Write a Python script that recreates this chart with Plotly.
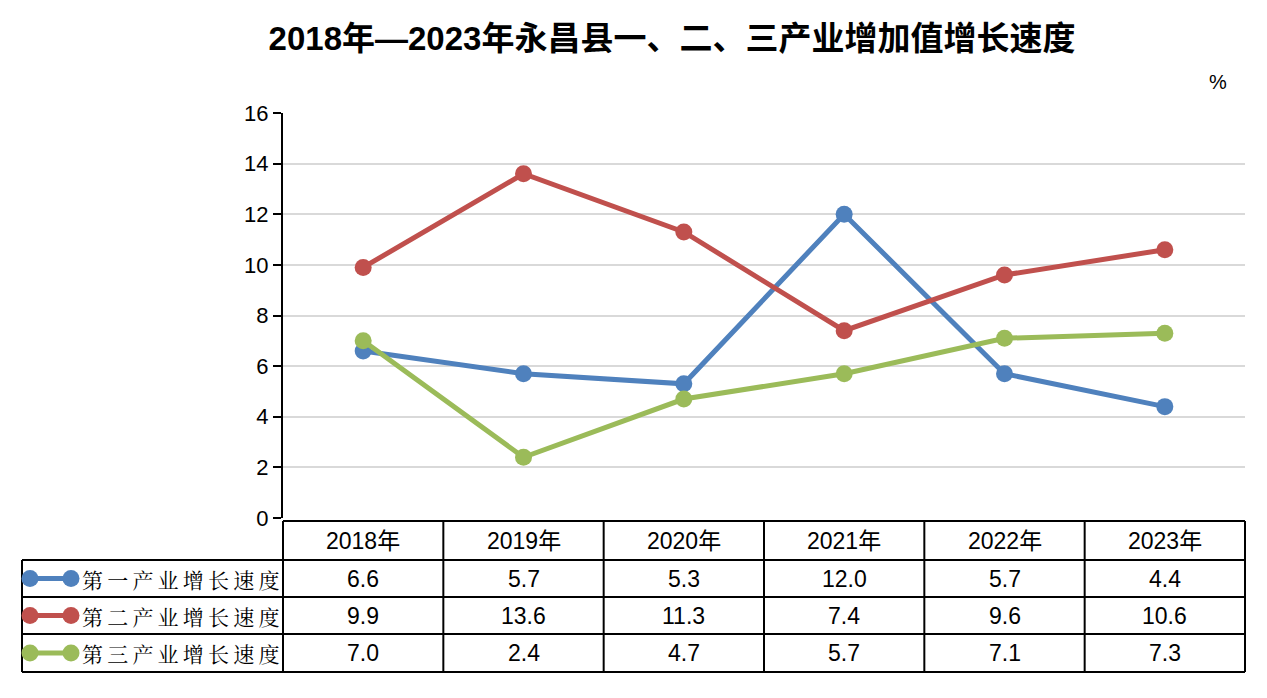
import plotly.graph_objects as go

# data
years = ["2018年", "2019年", "2020年", "2021年", "2022年", "2023年"]
names = ["第一产业增长速度", "第二产业增长速度", "第三产业增长速度"]
primary = [6.6, 5.7, 5.3, 12.0, 5.7, 4.4]
secondary = [9.9, 13.6, 11.3, 7.4, 9.6, 10.6]
tertiary = [7.0, 2.4, 4.7, 5.7, 7.1, 7.3]
colors = ["#4F81BD", "#C0504D", "#9BBB59"]

W, H = 1267, 698
OFF = 8  # page body margin
L, R, T, B = 283, 1245, 113, 518  # plot area in screen pixels

def px(x):
    return (x - L) / (R - L)

def py(y):
    return (B - y) / (B - T)

num_font = "Liberation Sans, Arial, Noto Sans CJK SC"
fig = go.Figure()

for name, vals, c in zip(names, [primary, secondary, tertiary], colors):
    fig.add_trace(go.Scatter(x=years, y=vals, name=name, mode="lines+markers",
                             line=dict(color=c, width=5),
                             marker=dict(color=c, size=17), showlegend=False))

# data table under the plot
row_edges = [521, 560, 597, 634, 672]
col_w = (R - L) / len(years)
shapes = []
line = dict(color="black", width=2)
shapes.append(dict(type="line", xref="paper", yref="paper", x0=px(L), x1=px(R),
                   y0=py(row_edges[0]), y1=py(row_edges[0]), line=line))
for yy in row_edges[1:]:
    shapes.append(dict(type="line", xref="paper", yref="paper", x0=px(22), x1=px(R),
                       y0=py(yy), y1=py(yy), line=line))
for i in range(len(years) + 1):
    xx = L + i * col_w
    shapes.append(dict(type="line", xref="paper", yref="paper", x0=px(xx), x1=px(xx),
                       y0=py(row_edges[0]), y1=py(row_edges[-1]), line=line))
shapes.append(dict(type="line", xref="paper", yref="paper", x0=px(22), x1=px(22),
                   y0=py(row_edges[1]), y1=py(row_edges[-1]), line=line))

cell_font = dict(size=23, family=num_font, color="black")
annotations = []
for yr in years:
    annotations.append(dict(x=yr, xref="x", yref="paper", xanchor="center", yanchor="middle",
                            y=py((row_edges[0] + row_edges[1]) / 2), text=yr,
                            showarrow=False, font=cell_font))
for r, (name, vals, c) in enumerate(zip(names, [primary, secondary, tertiary], colors)):
    yc = py((row_edges[r + 1] + row_edges[r + 2]) / 2)
    for yr, v in zip(years, vals):
        annotations.append(dict(x=yr, xref="x", yref="paper", y=yc, text=f"{v:.1f}",
                                xanchor="center", yanchor="middle",
                                showarrow=False, font=cell_font))
    # legend key
    shapes.append(dict(type="line", xref="paper", yref="paper", x0=px(30), x1=px(71),
                       y0=yc, y1=yc, line=dict(color=c, width=5)))
    for cx in (30, 71):
        shapes.append(dict(type="circle", xref="paper", yref="paper", xsizemode="pixel",
                           ysizemode="pixel", xanchor=px(cx), yanchor=yc,
                           x0=-8.5, x1=8.5, y0=-8.5, y1=8.5, fillcolor=c, line=dict(width=0)))
    annotations.append(dict(x=px(80), xref="paper", yref="paper", y=yc,
                            xanchor="left", yanchor="middle",
                            text="\u2009".join(name), showarrow=False,
                            font=dict(size=21, family="Noto Serif CJK SC, Noto Sans CJK SC",
                                      color="black")))

annotations.append(dict(x=px(1218), y=py(82), xref="paper", yref="paper", text="%",
                        xanchor="center", yanchor="middle",
                        showarrow=False, font=dict(size=20, family=num_font, color="black")))

fig.update_layout(
    width=W, height=H, autosize=False,
    margin=dict(l=L - OFF, r=W - (R - OFF), t=T - OFF, b=H - (B - OFF)),
    paper_bgcolor="white", plot_bgcolor="white",
    title=dict(text="<b>2018年—2023年永昌县一、二、三产业增加值增长速度</b>",
               x=(672 - OFF) / W, xanchor="center", y=1 - (38 - OFF) / H, yanchor="middle",
               font=dict(size=33, family=num_font, color="black")),
    xaxis=dict(range=[-0.5, 5.5], showticklabels=False, showgrid=False,
               zeroline=False, showline=False, ticks=""),
    yaxis=dict(range=[0, 16], dtick=2, showgrid=True, gridcolor="#D9D9D9", gridwidth=2,
               zeroline=False, showline=True, linecolor="black", linewidth=2,
               ticks="outside", ticklen=8, tickwidth=2, tickcolor="black",
               tickfont=dict(size=22, family=num_font, color="black")),
    shapes=shapes, annotations=annotations,
)

fig.write_html("out.html")
